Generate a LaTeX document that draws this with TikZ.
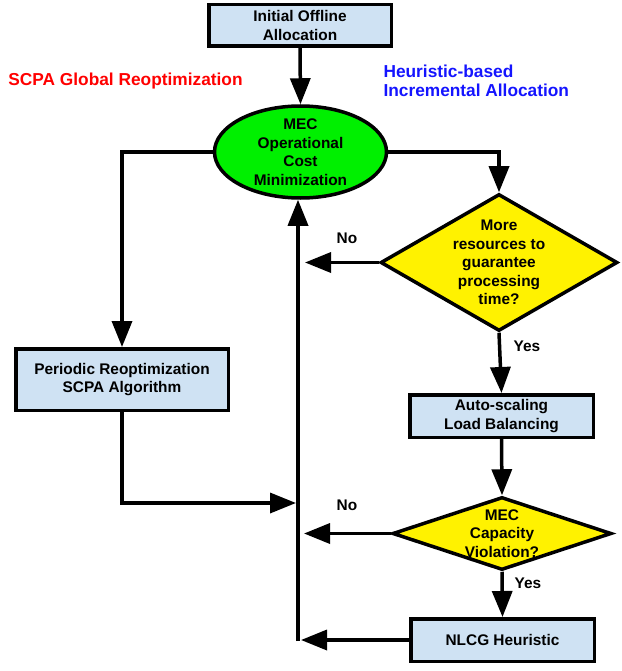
\documentclass[tikz,border=0pt]{standalone}
\usepackage{fontspec}
\setmainfont{Liberation Sans}
\usepackage{tikz}
\usetikzlibrary{shapes.geometric, arrows.meta}
\definecolor{boxblue}{RGB}{207,226,243}
\definecolor{ovalgreen}{RGB}{0,240,0}
\definecolor{titlered}{RGB}{255,0,0}
\definecolor{titleblue}{RGB}{20,20,255}

\begin{document}
\begin{tikzpicture}[x=1pt, y=-1pt,
    every node/.style={font=\bfseries\fontsize{15.4}{18.5}\selectfont, align=center},
    procbox/.style={draw, line width=3.5pt, fill=boxblue, inner sep=0pt},
    decision/.style={draw, diamond, line width=3.5pt, fill=yellow, inner sep=-40pt},
    arr/.style={line width=3.5pt, -{Triangle[width=20pt,length=26pt]}}]
    \useasboundingbox (0,0) rectangle (621,671);
    \node[procbox, minimum width=182.5, minimum height=41.5](init) at (300,25.5){Initial Offline\\Allocation};
    \node[ellipse, draw, line width=3.5pt, fill=ovalgreen, minimum width=172, minimum height=92, inner sep=-12pt](mec) at (300.5,152){MEC\\Operational\\Cost\\Minimization};
    \node[procbox, minimum width=212.5, minimum height=61.5](reopt) at (122,379.5){Periodic Reoptimization\\SCPA Algorithm};
    \node[decision, minimum width=237, minimum height=137](q1) at (499,262.5){More\\resources to\\guarantee\\processing\\time?};
    \node[procbox, minimum width=183.5, minimum height=42.5](scale) at (501.5,416){Auto-scaling\\Load Balancing};
    \node[decision, minimum width=219, minimum height=73](q2) at (502,533.5){MEC\\Capacity\\Violation?};
    \node[procbox, minimum width=183.5, minimum height=42.5](nlcg) at (502.5,640){NLCG Heuristic};
    \node[text=titlered, font=\bfseries\fontsize{17.3}{19}\selectfont](global) at (125.5,81){SCPA Global Reoptimization};
    \node[text=titleblue, anchor=west, align=left, font=\bfseries\fontsize{17.3}{18.5}\selectfont](incr) at (380,81){Heuristic-based\\Incremental Allocation};
    \node(no1) at (347,238){No};
    \node(yes1) at (527,346){Yes};
    \node(no2) at (347,505){No};
    \node(yes2) at (528,583){Yes};
    \coordinate(spine) at (298,641);
    \coordinate(merge) at (296,503);
    \draw[arr](init.south)--(mec.north);
    \draw[arr](spine)--(spine |- mec.south);
    \draw[arr](mec.west)-|(reopt.north);
    \draw[arr](mec.east)-|(q1.north);
    \draw[arr](q1.west)--([xshift=7]spine |- q1.west);
    \draw[arr](q1.south)--(scale.north);
    \draw[arr](scale.south)--(q2.north);
    \draw[arr](q2.west)--([xshift=6]spine |- q2.west);
    \draw[arr](q2.south)--(nlcg.north);
    \draw[arr](nlcg.west)--([xshift=3]spine |- nlcg.west);
    \draw[arr](reopt.south)|-(merge);
\end{tikzpicture}
\end{document}
